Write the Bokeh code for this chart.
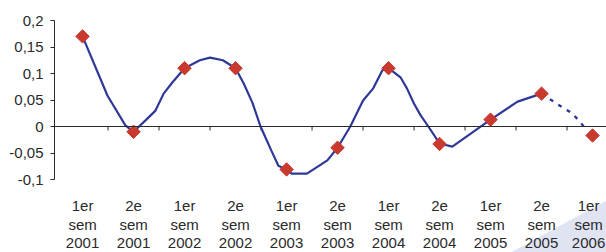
from bokeh.plotting import figure
from bokeh.models import Range1d, FixedTicker, Span
from bokeh.core.properties import value
from bokeh.embed import file_html
from bokeh.resources import INLINE

half_labels = ["1er", "2e", "1er", "2e", "1er", "2e", "1er", "2e", "1er", "2e", "1er"]
sem_labels = ["sem"] * 11
year_labels = ["2001", "2001", "2002", "2002", "2003", "2003", "2004", "2004", "2005", "2005", "2006"]
marker_values = [0.17, -0.01, 0.11, 0.11, -0.081, -0.04, 0.11, -0.033, 0.013, 0.062, -0.017]

line_x = [0.0, 0.49, 0.84, 1.0, 1.25, 1.43, 1.59, 1.76, 2.0, 2.3, 2.5, 2.75, 3.0, 3.16, 3.33,
          3.49, 3.7, 3.84, 4.0, 4.1, 4.4, 4.8, 5.0, 5.25, 5.5, 5.7, 5.88, 6.0, 6.24, 6.36, 6.5,
          6.63, 6.78, 7.0, 7.25, 8.0, 8.53, 9.0]
line_y = [0.17, 0.058, 0.002, -0.01, 0.013, 0.03, 0.062, 0.083, 0.11, 0.125, 0.13, 0.125, 0.11, 0.081, 0.045,
          0.0, -0.045, -0.074, -0.081, -0.089, -0.089, -0.064, -0.04, 0.0, 0.049, 0.072, 0.106, 0.11, 0.092, 0.072, 0.043,
          0.021, 0.0, -0.032, -0.038, 0.013, 0.047, 0.062]

dash_x = [9.0, 9.41, 9.6, 9.78, 9.84]
dash_y = [0.062, 0.036, 0.025, 0.006, -0.002]

y_ticks = [-0.1, -0.05, 0.0, 0.05, 0.1, 0.15, 0.2]
y_labels = ["-0,1", "-0,05", "0", "0,05", "0,1", "0,15", "0,2"]

TEXT = "#2a2a2a"
FONT = "Liberation Sans"
BLUE = "#2e3896"
RED = "#c9392d"

W, H = 606, 252
LEFT, TOP = 54, 20
PX = 0.1 / 53.0            # data units per pixel (vertical)
CAT_W = 51.0               # pixels per category
X0 = -0.55
X1 = X0 + (W - LEFT) / CAT_W
Y1 = 0.2
Y0 = Y1 - (H - TOP) * PX

def row_y(baseline_px):
    return Y1 - (baseline_px - TOP) * PX

p = figure(width=W, height=H, output_backend="svg", toolbar_location=None,
           x_range=Range1d(X0, X1), y_range=Range1d(Y0, Y1), x_axis_location=None,
           min_border_left=LEFT, min_border_top=TOP, min_border_right=0, min_border_bottom=0)
p.outline_line_color = None
p.xgrid.visible = False
p.ygrid.visible = False
p.background_fill_color = "white"

# decorative corner triangle
tri_left = X0 + (510 - LEFT) / CAT_W
p.patch([tri_left, X1, X1], [Y0, row_y(200), Y0], fill_color="#e0e3f2", line_color=None)

# y axis
ya = p.yaxis[0]
ya.bounds = (-0.1, 0.2)
ya.ticker = FixedTicker(ticks=y_ticks)
ya.major_label_overrides = {t: l for t, l in zip(y_ticks, y_labels)}
ya.axis_line_color = TEXT
ya.major_tick_line_color = TEXT
ya.major_tick_in = 0
ya.major_tick_out = 4
ya.minor_tick_line_color = None
ya.major_label_text_font = FONT
ya.major_label_text_font_size = "15px"
ya.major_label_text_color = TEXT
ya.major_label_standoff = 7

# category labels (three rows); last column nudged so it stays inside the picture
xs = list(range(len(year_labels)))
nudge = [0] * (len(xs) - 1) + [-4]
for labels, base in ((half_labels, 205), (sem_labels, 224), (year_labels, 242)):
    p.text(x=xs, y=[row_y(base)] * len(xs), text=labels, x_offset=nudge, text_font=value(FONT),
           text_font_size="15px", text_color=TEXT, text_align="center", text_baseline="alphabetic")

# zero line with category boundary ticks
p.add_layout(Span(location=0, dimension="width", line_color=TEXT, line_width=1))
bounds = [i + 0.5 for i in range(len(year_labels))]
p.segment(x0=bounds, y0=[0] * len(bounds), x1=bounds, y1=[-4 * PX] * len(bounds),
          line_color=TEXT, line_width=1)

# series
p.line(line_x, line_y, line_color=BLUE, line_width=2.2)
p.line(dash_x, dash_y, line_color=BLUE, line_width=2.4, line_dash="4 6")
p.scatter(xs, marker_values, marker="square", size=9.5, angle=0.785398,
          fill_color=RED, line_color=RED)

open("out.html", "w").write(file_html(p, INLINE))
